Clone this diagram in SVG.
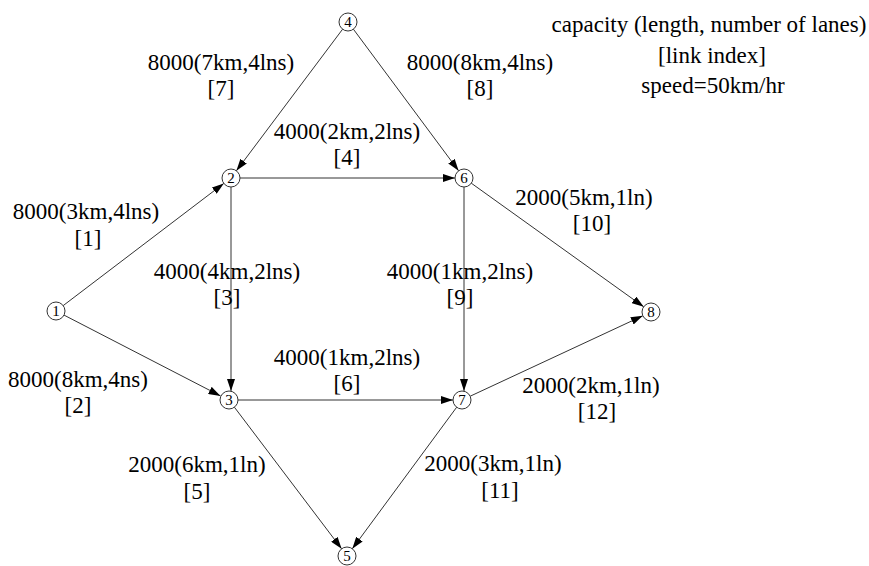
<svg xmlns="http://www.w3.org/2000/svg" width="869" height="566" viewBox="0 0 869 566">
<style>
.lbl{font-family:"Liberation Serif","Times New Roman",serif;font-size:23px;fill:#000;text-anchor:middle}
.nd circle{fill:#fff;stroke:#333;stroke-width:1}
.nd text{font-family:"Liberation Serif","Times New Roman",serif;font-size:15px;fill:#000;text-anchor:middle}
.e line{stroke:#333;stroke-width:1;marker-end:url(#ah)}
</style>
<defs>
<marker id="ah" markerUnits="userSpaceOnUse" markerWidth="12" markerHeight="8" refX="12" refY="4" orient="auto">
<path d="M0,0 L12,4 L0,8 z" fill="#000"/>
</marker>
</defs>
<rect width="869" height="566" fill="#fff"/>
<g id="connectors" class="e">
<line x1="63.2" y1="305.6" x2="223.8" y2="183.4"/>
<line x1="64" y1="315.1" x2="220.5" y2="395.9"/>
<line x1="342.6" y1="29.2" x2="236.4" y2="170.8"/>
<line x1="353.4" y1="29.2" x2="458.6" y2="170.8"/>
<line x1="240" y1="178" x2="455" y2="178"/>
<line x1="231" y1="187" x2="231" y2="391"/>
<line x1="464" y1="187" x2="464" y2="391"/>
<line x1="238" y1="400" x2="453" y2="400"/>
<line x1="471.3" y1="183.2" x2="643.7" y2="306.8"/>
<line x1="470.2" y1="396.2" x2="642.8" y2="315.8"/>
<line x1="234.4" y1="407.2" x2="341.6" y2="548.8"/>
<line x1="456.7" y1="407.2" x2="352.3" y2="548.8"/>
</g>
<g id="n1" class="nd"><circle cx="56" cy="311" r="9"/><text x="56" y="316">1</text></g>
<g id="n2" class="nd"><circle cx="231" cy="178" r="9"/><text x="231" y="183">2</text></g>
<g id="n3" class="nd"><circle cx="229" cy="400" r="9"/><text x="229" y="405">3</text></g>
<g id="n4" class="nd"><circle cx="348" cy="22" r="9"/><text x="348" y="27">4</text></g>
<g id="n5" class="nd"><circle cx="347" cy="556" r="9"/><text x="347" y="561">5</text></g>
<g id="n6" class="nd"><circle cx="464" cy="178" r="9"/><text x="464" y="183">6</text></g>
<g id="n7" class="nd"><circle cx="462" cy="400" r="9"/><text x="462" y="405">7</text></g>
<g id="n8" class="nd"><circle cx="651" cy="312" r="9"/><text x="651" y="317">8</text></g>
<g id="labels" class="lbl">
<text x="709" y="32">capacity (length, number of lanes)</text>
<text x="712" y="63">[link index]</text>
<text x="713" y="93">speed=50km/hr</text>
<text x="221" y="70">8000(7km,4lns)</text>
<text x="221" y="96">[7]</text>
<text x="480" y="70">8000(8km,4lns)</text>
<text x="480" y="96">[8]</text>
<text x="347" y="139">4000(2km,2lns)</text>
<text x="347" y="165">[4]</text>
<text x="86" y="219">8000(3km,4lns)</text>
<text x="88" y="246">[1]</text>
<text x="227" y="279">4000(4km,2lns)</text>
<text x="227" y="305">[3]</text>
<text x="460" y="279">4000(1km,2lns)</text>
<text x="460" y="305">[9]</text>
<text x="584" y="205">2000(5km,1ln)</text>
<text x="592" y="231">[10]</text>
<text x="347" y="365">4000(1km,2lns)</text>
<text x="347" y="391">[6]</text>
<text x="78" y="387">8000(8km,4ns)</text>
<text x="78" y="413">[2]</text>
<text x="591" y="393">2000(2km,1ln)</text>
<text x="597" y="419">[12]</text>
<text x="197" y="472">2000(6km,1ln)</text>
<text x="197" y="499">[5]</text>
<text x="493" y="471">2000(3km,1ln)</text>
<text x="500" y="498">[11]</text>
</g>
</svg>
